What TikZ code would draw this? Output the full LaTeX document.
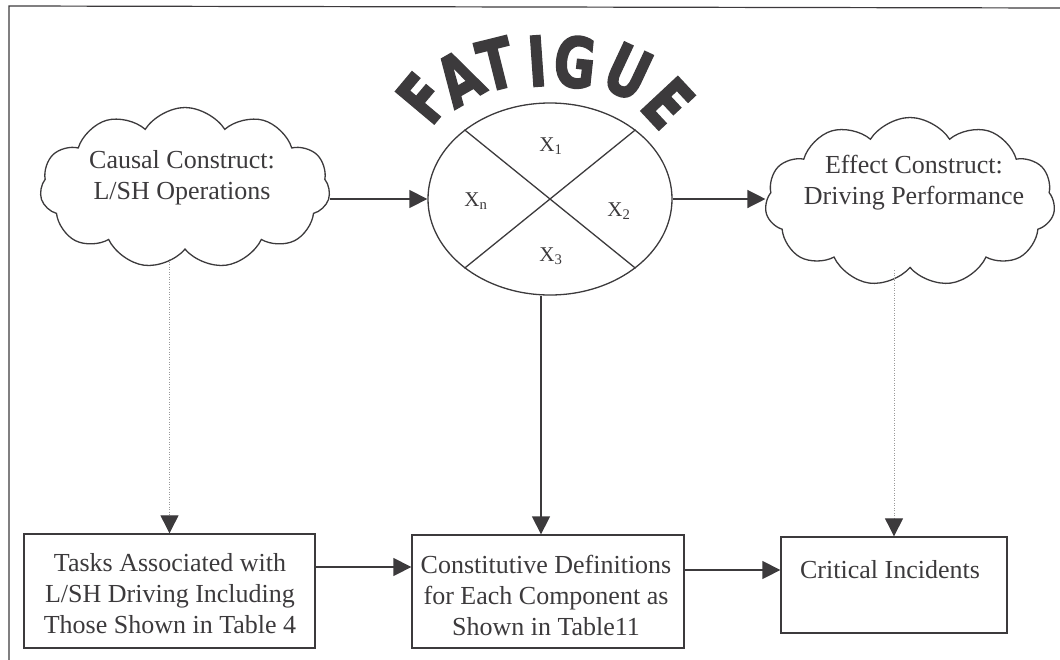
\documentclass[tikz,border=0pt]{standalone}
\usepackage{fontspec}
\setmainfont{Liberation Serif}
\newfontfamily\fatfont{DejaVu Sans}[FakeBold=2.5]
\usetikzlibrary{shapes.geometric,shapes.symbols,arrows.meta}
\definecolor{ink}{HTML}{3C3A3C}
\definecolor{dotc}{HTML}{9A9A9A}
\tikzset{
  ln/.style={draw=ink, line width=1.3pt},
  arr/.style={ln, -{Triangle[length=18pt,width=18pt]}},
  dotarr/.style={draw=dotc, line width=0.9pt, dash pattern=on 1pt off 1.5pt,
     -{Triangle[length=18pt,width=18pt,fill=ink,color=ink]}},
  stepbox/.style={ln, rectangle, inner sep=0pt},
  txt/.style={text=ink, font=\fontsize{26}{31}\selectfont, align=center, inner sep=0pt},
  cloudbox/.style={ln, cloud, cloud puffs=11, cloud puff arc=115, cloud ignores aspect, inner sep=0pt},
  xlab/.style={text=ink, font=\fontsize{21}{24}\selectfont, inner sep=0pt},
  fat/.style={text=ink, font=\fatfont\bfseries\fontsize{69}{69}\selectfont, inner sep=0pt},
}
\begin{document}
\begin{tikzpicture}[x=1pt,y=-1pt]
\useasboundingbox (0,0) rectangle (1060,659);
% frame
\coordinate (fbl) at (9,662);
\coordinate (ftl) at (9,6);
\coordinate (ftr) at (1062,8);
\draw[ln, line width=1.2pt] (fbl) -- (ftl) -- (ftr);

% clouds
\node[cloudbox, minimum width=290, minimum height=161] (c1) at (185,188) {};
\node[txt] (c1t) at (182,178) {Causal Construct:\\L/SH Operations};
\node[cloudbox, minimum width=290, minimum height=169] (c2) at (910,202) {};
\node[txt] (c2t) at (914,183) {Effect Construct:\\Driving Performance};

% fatigue ellipse
\node[ln, ellipse, minimum width=244, minimum height=192, inner sep=0pt] (e) at (550,199) {};
\draw[ln] (e.141) -- (e.321);
\draw[ln] (e.39) -- (e.219);
\node[xlab] (x1) at (551,146) {X\textsubscript{1}};
\node[xlab] (xn) at (476,201) {X\textsubscript{n}};
\node[xlab] (x2) at (619,211) {X\textsubscript{2}};
\node[xlab] (x3) at (551,256) {X\textsubscript{3}};

% FATIGUE arched word
\node[fat, rotate=50] (lF) at (423,98) {\scalebox{0.74}[1]{F}};
\node[fat, rotate=30] (lA) at (459,78) {\scalebox{0.74}[1]{A}};
\node[fat, rotate=14] (lT) at (496,64) {\scalebox{0.74}[1]{T}};
\node[fat, rotate=4] (lI) at (537,61) {\scalebox{0.74}[1]{I}};
\node[fat, rotate=-6] (lG) at (575,62) {\scalebox{0.74}[1]{G}};
\node[fat, rotate=-25] (lU) at (628,72) {\scalebox{0.74}[1]{U}};
\node[fat, rotate=-47] (lE) at (668,103) {\scalebox{0.74}[1]{E}};

% boxes
\node[stepbox, minimum width=291, minimum height=114] (b1) at (169.5,591) {};
\node[txt] (b1t) at (170,594) {Tasks Associated with\\L/SH Driving Including\\Those Shown in Table 4};
\node[stepbox, minimum width=272, minimum height=113] (b2) at (548,591.5) {};
\node[txt] (b2t) at (546,595) {Constitutive Definitions\\for Each Component as\\Shown in Table11};
\node[stepbox, minimum width=226, minimum height=96] (b3) at (894,585) {};
\node[txt] (b3t) at (890,570) {Critical Incidents};

% connectors
\draw[arr] (e.west -| c1.east) -- (e.west);
\draw[arr] (e.east) -- (e.east -| c2.west);
\coordinate (vx) at (541,0);
\draw[arr] (vx |- e.south) -- (vx |- b2.north);
\draw[dotarr, shorten <=9pt] (b1.north |- c1.south) -- (b1.north);
\draw[dotarr, shorten <=2pt] (b3.north |- c2.south) -- (b3.north);
\draw[arr] ([yshift=24pt]b1.east) -- ([yshift=24pt]b1.east -| b2.west);
\draw[arr] (b3t -| b2.east) -- (b3t -| b3.west);
\end{tikzpicture}
\end{document}
